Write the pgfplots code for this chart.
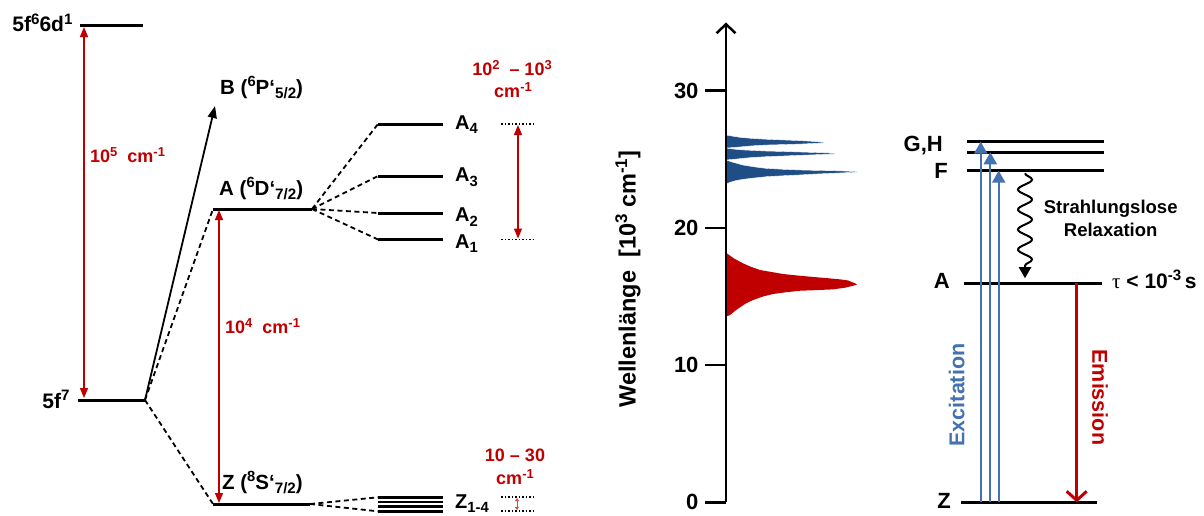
\documentclass[border=0pt]{standalone}
\usepackage{pgfplots}
\pgfplotsset{compat=1.18}
\usepackage{graphicx}
\usepackage{fontspec}
\setmainfont{Liberation Sans}
\newfontfamily\seriffont{Liberation Serif}
\usetikzlibrary{arrows.meta,decorations.pathmorphing}
\definecolor{myred}{RGB}{192,0,0}
\definecolor{specblue}{RGB}{31,78,134}
\definecolor{arrblue}{RGB}{68,114,176}
\newcommand\fs[1]{\fontsize{#1}{#1}\selectfont\bfseries}
\newcommand\su[1]{\raisebox{0.36em}{\scalebox{0.72}{#1}}}
\newcommand\dn[1]{\raisebox{-0.22em}{\scalebox{0.74}{#1}}}
\pgfplotsset{
  lev/.style={black, line width=3pt},
  dsh/.style={black, line width=1.8pt, dash pattern=on 5pt off 3.5pt},
  dot/.style={black, line width=1.4pt, dash pattern=on 1.5pt off 2pt},
  rarr/.style={myred, line width=1.3pt, {Triangle[length=10pt,width=8pt]}-{Triangle[length=10pt,width=8pt]}},
}
\begin{document}
\begin{tikzpicture}
% ---------------- left diagram (pixel coordinates) ----------------
\begin{axis}[at={(0,0)}, anchor=south west, scale only axis,
  width=1204pt, height=515pt, xmin=0, xmax=1204, ymin=0, ymax=515,
  y dir=reverse, hide axis, clip=false, no marks]
\addplot[draw=none] coordinates {(0,0) (1204,515)};
% levels
\addplot[lev] coordinates {(80,25) (143,25)};
\addplot[lev] coordinates {(78,400) (145,400)};
\addplot[lev] coordinates {(213,209) (312,209)};
\addplot[lev] coordinates {(213,504) (310,504)};
\addplot[lev] coordinates {(378,124) (443,124)};
\addplot[lev] coordinates {(378,176) (443,176)};
\addplot[lev] coordinates {(378,213) (443,213)};
\addplot[lev] coordinates {(378,239.5) (443,239.5)};
\addplot[black, line width=2.6pt] coordinates {(378,497.3) (443,497.3)};
\addplot[black, line width=2.6pt] coordinates {(378,502) (443,502)};
\addplot[black, line width=2.6pt] coordinates {(378,506.7) (443,506.7)};
\addplot[black, line width=2.6pt] coordinates {(378,511.3) (443,511.3)};
% dashed connectors
\addplot[dsh] coordinates {(145,400) (213,209)};
\addplot[dsh] coordinates {(145,400) (213,504)};
\addplot[dsh] coordinates {(312,209) (378,124)};
\addplot[dsh] coordinates {(312,209) (378,176)};
\addplot[dsh] coordinates {(312,209) (378,213)};
\addplot[dsh] coordinates {(312,209) (378,239.5)};
\addplot[dsh] coordinates {(310,504) (378,497.3)};
\addplot[dsh] coordinates {(310,504) (378,511.3)};
% solid arrow to B
\addplot[black, line width=1.8pt, -{Triangle[length=12pt,width=9pt]}] coordinates {(145,400) (215,106)};
% red arrows
\addplot[rarr] coordinates {(84,27) (84,398)};
\addplot[rarr] coordinates {(219,210) (219,503)};
\addplot[rarr] coordinates {(518,125) (518,238.5)};
\addplot[myred!70, line width=0.8pt, {Triangle[length=3pt,width=4pt]}-{Triangle[length=3pt,width=4pt]}] coordinates {(517,498) (517,510)};
% dotted markers
\addplot[dot] coordinates {(501,124) (535,124)};
\addplot[dot] coordinates {(501,239.5) (535,239.5)};
\addplot[dot] coordinates {(501,497) (535,497)};
\addplot[dot] coordinates {(501,511) (535,511)};
% black labels
\node[anchor=base east, font=\fs{21}] at (76,31.7) {5f\su{6}6d\su{1}};
\node[anchor=base east, font=\fs{21}] at (73,408.3) {5f\su{7}};
\node[anchor=base west, font=\fs{20.5}, inner sep=0pt] at (220,94) {B (\su{6}P‘\dn{5/2})};
\node[anchor=base west, font=\fs{20.5}, inner sep=0pt] at (219,195) {A (\su{6}D‘\dn{7/2})};
\node[anchor=base west, font=\fs{20.5}, inner sep=0pt] at (222,489) {Z (\su{8}S‘\dn{7/2})};
\node[anchor=base west, font=\fs{20}, inner sep=0pt] at (455,129.3) {A\dn{4}};
\node[anchor=base west, font=\fs{20}, inner sep=0pt] at (455,181.7) {A\dn{3}};
\node[anchor=base west, font=\fs{20}, inner sep=0pt] at (455,221.7) {A\dn{2}};
\node[anchor=base west, font=\fs{20}, inner sep=0pt] at (455,248.3) {A\dn{1}};
\node[anchor=base west, font=\fs{20}, inner sep=0pt] at (455,508.5) {Z\dn{1-4}};
% red labels
\node[anchor=west, font=\fs{18}, text=myred, inner sep=0pt] at (90,155) {10\su{5}\ \ cm\su{-1}};
\node[anchor=west, font=\fs{18}, text=myred, inner sep=0pt] at (225,326) {10\su{4}\ \ cm\su{-1}};
\node[font=\fs{18}, text=myred, inner sep=0pt] at (512,68) {10\su{2}\ \ – 10\su{3}};
\node[font=\fs{18}, text=myred, inner sep=0pt] at (513,90) {cm\su{-1}};
\node[font=\fs{18}, text=myred, inner sep=0pt] at (515,455) {10 – 30};
\node[font=\fs{18}, text=myred, inner sep=0pt] at (515,477) {cm\su{-1}};
\end{axis}
% ---------------- right diagram ----------------
\begin{axis}[at={(726pt,12.7pt)}, anchor=south west, scale only axis,
  width=478pt, height=479.8pt, xmin=726, xmax=1204, ymin=0, ymax=34.97,
  clip=false, no marks, axis on top,
  axis x line=none, axis y line=left,
  axis line style={line width=2.5pt, -{Straight Barb[length=9pt,width=19pt,line width=2.5pt]}},
  ytick={0,10,20,30}, tick align=outside, major tick length=21pt,
  ytick style={line width=2.5pt, black},
  /pgf/number format/assume math mode=true,
  yticklabel style={font=\fs{22}, xshift=-3pt},
  ylabel={Wellenlänge\ \ [10\su{3} cm\su{-1}]},
  ylabel style={font=\fs{23.5}, at={(axis description cs:-0.205,0.465)}, anchor=center},
]
% spectra
\addplot[fill=specblue, draw=white, line width=0.4pt] coordinates {
 (726,26.77) (733,26.68) (740,26.60) (752,26.52) (766,26.46) (783,26.41) (800,26.36) (812,26.31) (824,26.24)
 (824,26.19) (812,26.15) (800,26.11) (783,26.07) (766,26.04) (752,25.98) (743,25.92) (734,25.86) (726,25.82)} -- cycle;
\addplot[fill=specblue, draw=white, line width=0.4pt] coordinates {
 (726,25.82) (734,25.74) (743,25.68) (755,25.64) (766,25.60) (783,25.57) (800,25.53) (818,25.49) (835,25.44)
 (835,25.39) (818,25.34) (800,25.29) (783,25.24) (766,25.19) (752,25.13) (743,25.07) (734,25.00) (726,24.95)} -- cycle;
\addplot[fill=specblue, draw=white, line width=0.4pt] coordinates {
 (726,24.95) (733,24.78) (743,24.58) (755,24.44) (766,24.34) (783,24.27) (800,24.22) (817,24.19) (833,24.17) (845,24.14) (857,24.10)
 (857,24.05) (845,24.02) (833,23.98) (817,23.93) (800,23.86) (783,23.80) (766,23.73) (752,23.62) (743,23.54) (736,23.45) (730,23.32) (726,23.18)} -- cycle;
\addplot[fill=myred, draw=none] coordinates {
 (726,18.19) (734,17.77) (743,17.42) (750,17.19) (760,16.93) (783,16.64) (800,16.51) (817,16.40) (828,16.33) (840,16.25) (848,16.17) (855,15.96) (857,15.89)
 (855,15.82) (845,15.64) (833,15.52) (815,15.46) (800,15.42) (785,15.30) (773,15.18) (763,15.00) (753,14.74) (746,14.50) (740,14.21) (735,13.95) (730,13.65) (726,13.53)} -- cycle;
% levels
\addplot[lev] coordinates {(967,26.28) (1104,26.28)};
\addplot[lev] coordinates {(967,25.51) (1104,25.51)};
\addplot[lev] coordinates {(967,24.17) (1104,24.17)};
\addplot[lev] coordinates {(964,15.98) (1102,15.98)};
\addplot[lev] coordinates {(961,0) (1097,0)};
% excitation arrows
\addplot[arrblue, line width=2.3pt, -{Triangle[length=12pt,width=13pt]}] coordinates {(980.7,0) (980.7,26.28)};
\addplot[arrblue, line width=2.3pt, -{Triangle[length=12pt,width=13pt]}] coordinates {(990.3,0) (990.3,25.51)};
\addplot[arrblue, line width=2.3pt, -{Triangle[length=12pt,width=13pt]}] coordinates {(998.7,0) (998.7,24.17)};
% emission arrow
\addplot[myred, line width=3pt, -{Straight Barb[length=9pt,width=20pt,line width=3pt]}] coordinates {(1076.7,15.98) (1076.7,0)};
% relaxation wave
\addplot[black, line width=2pt, decorate, decoration={snake, amplitude=7pt, segment length=20pt, post length=9pt},
  -{Triangle[length=11pt,width=12pt]}] coordinates {(1025,23.98) (1025,16.33)};
% labels
\node[anchor=base east, font=\fs{22}, inner sep=0pt] at (943,25.55) {G,H};
\node[anchor=base east, font=\fs{22}, inner sep=0pt] at (948,23.6) {F};
\node[anchor=base east, font=\fs{22}, inner sep=0pt] at (950,15.6) {A};
\node[anchor=base east, font=\fs{22}, inner sep=0pt] at (951,-0.44) {Z};
\node[anchor=base west, font=\fs{21}, inner sep=0pt] at (1112,15.6) {{\seriffont\mdseries τ} < 10\su{-3}\,s};
\node[anchor=base, font=\fs{18.5}, inner sep=0pt] at (1110.7,21.06) {Strahlungslose};
\node[anchor=base, font=\fs{18.5}, inner sep=0pt] at (1110.7,19.36) {Relaxation};
\node[rotate=90, font=\fs{21.5}, text=arrblue, inner sep=0pt] at (956.7,7.82) {Excitation};
\node[rotate=-90, font=\fs{21.5}, text=myred, inner sep=0pt] at (1100,7.65) {Emission};
\end{axis}
\end{tikzpicture}
\end{document}
